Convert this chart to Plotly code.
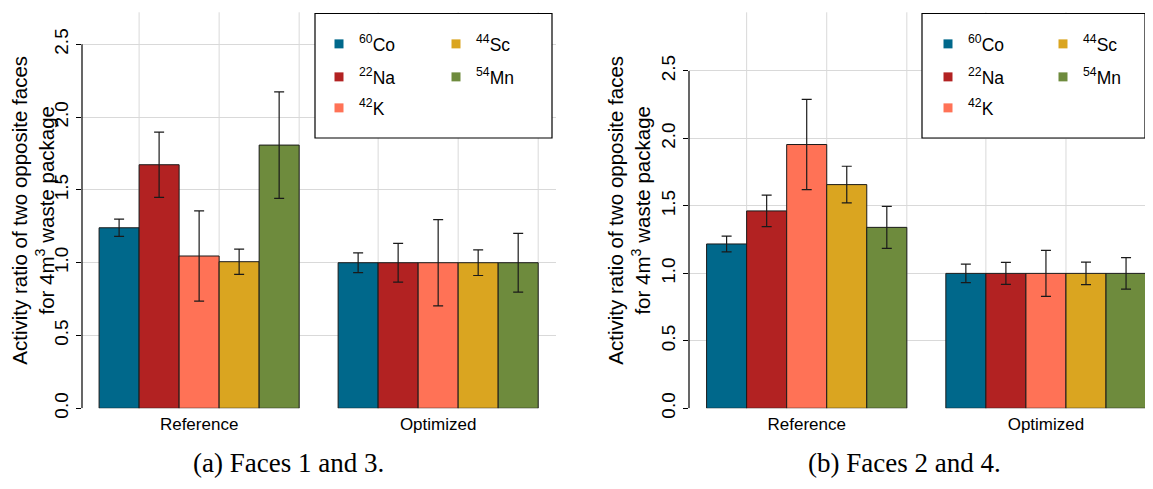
import plotly.graph_objects as go

# ---------------- data ----------------
groups = ["Reference", "Optimized"]
nuclide_labels = ["<sup>60</sup>Co", "<sup>22</sup>Na", "<sup>42</sup>K", "<sup>44</sup>Sc", "<sup>54</sup>Mn"]
colors = ["#00688B", "#B22222", "#FF7256", "#DAA520", "#6E8B3D"]

# Faces 1 and 3 (order: Co, Na, K, Sc, Mn)
faces13_reference = [1.24, 1.673, 1.046, 1.007, 1.808]
faces13_reference_err = [0.059, 0.224, 0.31, 0.087, 0.366]
faces13_optimized = [1.0, 1.0, 1.0, 1.0, 1.0]
faces13_optimized_err = [0.068, 0.133, 0.296, 0.088, 0.202]

# Faces 2 and 4
faces24_reference = [1.218, 1.463, 1.955, 1.658, 1.341]
faces24_reference_err = [0.058, 0.117, 0.334, 0.136, 0.156]
faces24_optimized = [1.0, 1.0, 1.0, 1.0, 1.0]
faces24_optimized_err = [0.068, 0.082, 0.171, 0.083, 0.117]

y_ticks = [0.0, 0.5, 1.0, 1.5, 2.0, 2.5]
captions = ["(a) Faces 1 and 3.", "(b) Faces 2 and 4."]
y_title = "Activity ratio of two opposite faces<br>for 4m<sup>3</sup> waste package"

# legend grid: (column, row) of each nuclide inside its legend box
legend_cell = [(0, 0), (0, 1), (0, 2), (1, 0), (1, 1)]

# ---------------- layout helpers ----------------
# the page body has an 8px margin: figure origin sits at screen (8, 8)
OX, OY = 8, 8
W, H = 1153 - 2 * OX, 489 - 2 * OY
def px(x):
    return (x - OX) / W
def py(y):
    return 1 - (y - OY) / H

BARGAP = 0.163
bar_w = (1 - BARGAP) / 5
SANS = "Liberation Sans, Arial, sans-serif"
GRID = "#d9d9d9"
EDGE = "#1a1a1a"

fig = go.Figure()

panels = [
    dict(xa="x", ya="y", ref=faces13_reference, refe=faces13_reference_err,
         opt=faces13_optimized, opte=faces13_optimized_err,
         col_x=[335, 452], box=(315, 552)),
    dict(xa="x2", ya="y2", ref=faces24_reference, refe=faces24_reference_err,
         opt=faces24_optimized, opte=faces24_optimized_err,
         col_x=[944, 1059], box=(922, 1153)),
]
row_y = [44, 77, 108]

legend_layouts = {}
n_leg = 0
for p in panels:
    for i, lab in enumerate(nuclide_labels):
        fig.add_trace(go.Bar(
            x=groups, y=[p["ref"][i], p["opt"][i]],
            error_y=dict(type="data", array=[p["refe"][i], p["opte"][i]], visible=True,
                         color=EDGE, thickness=1.2, width=5),
            marker=dict(color=colors[i], line=dict(color=EDGE, width=1)),
            name=lab, showlegend=False, xaxis=p["xa"], yaxis=p["ya"], hoverinfo="skip",
        ))
    # one small legend per entry so that the 2-column, column-major layout is kept
    for i, lab in enumerate(nuclide_labels):
        n_leg += 1
        key = "legend" if n_leg == 1 else f"legend{n_leg}"
        col, row = legend_cell[i]
        fig.add_trace(go.Scatter(
            x=[None], y=[None], mode="markers",
            marker=dict(symbol="square", size=9, color=colors[i]),
            name=lab, legend=key, xaxis=p["xa"], yaxis=p["ya"], showlegend=True,
        ))
        legend_layouts[key] = dict(
            x=px(p["col_x"][col] - 16), y=py(row_y[row]), xanchor="left", yanchor="middle",
            orientation="h", bgcolor="rgba(0,0,0,0)", borderwidth=0,
            font=dict(family=SANS, size=17.5, color="black"),
            itemclick=False, itemdoubleclick=False,
        )

# ---------------- axes ----------------
left_dom = [px(82), px(556)]
right_dom = [px(689), 1.0]
y_dom = [py(408.3), py(12.3)]

def yaxis_cfg(top, anchor):
    return dict(
        domain=y_dom, range=[0, top], tickvals=y_ticks, tickformat=".1f",
        tickangle=-90, ticks="outside", ticklen=5, tickcolor="black",
        tickfont=dict(family=SANS, size=19, color="black"),
        showgrid=True, gridcolor=GRID, gridwidth=1, zeroline=False, showline=False,
        title=dict(text=y_title, font=dict(family=SANS, size=20.5, color="black"), standoff=2),
        automargin=False, fixedrange=True, anchor=anchor,
    )

def xaxis_cfg(dom, rng, anchor):
    return dict(
        domain=dom, range=rng, type="category", showgrid=False, zeroline=False, showline=False,
        ticks="", tickfont=dict(family=SANS, size=17, color="black"), anchor=anchor,
        ticklabelstandoff=4, automargin=False, fixedrange=True,
    )

fig.update_layout(
    width=W, height=H, margin=dict(l=0, r=0, t=0, b=0),
    paper_bgcolor="white", plot_bgcolor="white",
    barmode="group", bargap=BARGAP, bargroupgap=0,
    xaxis=xaxis_cfg(left_dom, [-0.49, 1.493], "y"),
    yaxis=yaxis_cfg(2.72, "x"),
    xaxis2=xaxis_cfg(right_dom, [-0.492, 1.414], "y2"),
    yaxis2=yaxis_cfg(2.935, "x2"),
    **legend_layouts,
)

# ---------------- shapes: legend boxes, y axis lines, vertical grid ----------------
shapes = []
for p in panels:
    x0, x1 = p["box"]
    shapes.append(dict(type="rect", xref="paper", yref="paper", x0=px(x0), x1=min(px(x1), 1.0),
                       y0=py(138), y1=py(13.5), line=dict(color="black", width=1.2),
                       fillcolor="white", layer="above"))
for xa, ya in [("x", "y"), ("x2", "y2")]:
    shapes.append(dict(type="line", xref=f"{xa} domain", yref=ya, x0=0, x1=0,
                       y0=y_ticks[0], y1=y_ticks[-1], line=dict(color="black", width=1.2)))
    for c in range(len(groups)):
        for k in (-1.5, 0.5, 2.5):
            shapes.append(dict(type="line", xref=xa, yref=f"{ya} domain",
                               x0=c + k * bar_w, x1=c + k * bar_w, y0=0, y1=1,
                               line=dict(color=GRID, width=1), layer="below"))
fig.update_layout(shapes=shapes)

# ---------------- captions ----------------
for cx, txt in zip([288, 904], captions):
    fig.add_annotation(x=px(cx), y=py(463), xref="paper", yref="paper", text=txt,
                       showarrow=False, xanchor="center", yanchor="middle",
                       font=dict(family="Liberation Serif, Times New Roman, serif", size=27, color="black"))

fig.write_html("out.html")
